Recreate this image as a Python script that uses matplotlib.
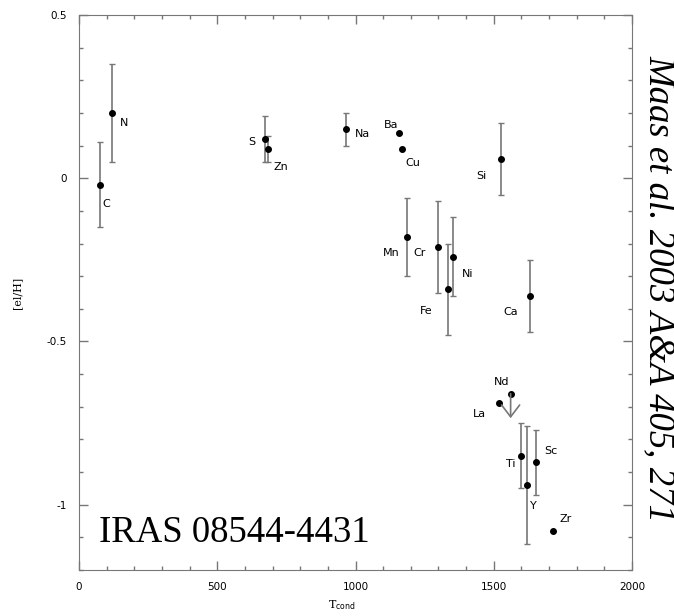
import matplotlib
matplotlib.use("Agg")
import matplotlib.pyplot as plt
from matplotlib.ticker import MultipleLocator

# element abundances [el/H] vs condensation temperature
elements = ["C", "N", "S", "Zn", "Na", "Ba", "Cu", "Si", "Mn", "Cr",
            "Fe", "Ni", "Ca", "La", "Ti", "Y", "Sc", "Zr"]
t_cond = [76, 119, 673, 683, 966, 1159, 1167, 1527, 1188, 1298,
          1334, 1353, 1632, 1519, 1598, 1621, 1652, 1716]
abund = [-0.02, 0.20, 0.12, 0.09, 0.15, 0.14, 0.09, 0.06, -0.18, -0.21,
         -0.34, -0.24, -0.36, -0.69, -0.85, -0.94, -0.87, -1.08]
err = [0.13, 0.15, 0.07, 0.04, 0.05, 0.0, 0.0, 0.11, 0.12, 0.14,
       0.14, 0.12, 0.11, 0.0, 0.10, 0.18, 0.10, 0.0]

# Nd is an upper limit
nd_t = 1561
nd_val = -0.66
nd_tip = -0.735

# label offsets (points) from each dot
offsets = {"C": (1.6, -16), "N": (5.7, -9.7), "S": (-12, -4), "Zn": (4, -15),
           "Na": (6, -5.5), "Ba": (-11, 3), "Cu": (3, -12.5), "Si": (-18, -15),
           "Mn": (-18, -14), "Cr": (-17.5, -6.6), "Fe": (-20, -18), "Ni": (6, -14.5),
           "Ca": (-19, -14), "La": (-19, -9.5), "Ti": (-11, -8), "Y": (2, -17),
           "Sc": (6, 6), "Zr": (4, 6.5)}

fig = plt.figure(figsize=(6.74, 6.16), dpi=100)
ax = fig.add_axes([0.1172, 0.0747, 0.8205, 0.9009])

for x, y, e in zip(t_cond, abund, err):
    if e > 0:
        ax.errorbar(x, y, yerr=e, fmt="none", ecolor="#777777", elinewidth=1.2,
                    capsize=2.5, capthick=1)
ax.plot(t_cond, abund, "o", color="black", markersize=4)
ax.plot(nd_t, nd_val, "o", color="black", markersize=4)
ax.annotate("", xy=(nd_t, nd_tip), xytext=(nd_t, nd_val),
            arrowprops=dict(arrowstyle="->,head_length=0.85,head_width=0.65",
                            color="#777777", lw=1.2, shrinkA=0, shrinkB=0))
ax.annotate("Nd", (nd_t, nd_val), xytext=(-12, 6), textcoords="offset points",
            fontsize=8)

for name, x, y in zip(elements, t_cond, abund):
    ax.annotate(name, (x, y), xytext=offsets[name], textcoords="offset points",
                fontsize=8)

ax.set_xlim(0, 2000)
ax.set_ylim(-1.2, 0.5)
ax.xaxis.set_major_locator(MultipleLocator(500))
ax.xaxis.set_minor_locator(MultipleLocator(100))
ax.yaxis.set_minor_locator(MultipleLocator(0.1))
ax.set_yticks([-1, -0.5, 0, 0.5])
ax.set_yticklabels(["-1", "-0.5", "0", "0.5"])
ax.tick_params(which="both", direction="in", top=True, right=True,
               colors="#777777", labelcolor="black", labelsize=7.5, pad=9)
ax.tick_params(which="major", length=6.5, width=1)
ax.tick_params(which="minor", length=3, width=1)
for spine in ax.spines.values():
    spine.set_color("#777777")

ax.set_ylabel("[el/H]", family="DejaVu Serif", fontsize=8)
ax.yaxis.set_label_coords(-0.103, 0.5)
ax.set_xlabel(r"T$_{\rm cond}$", family="DejaVu Serif", fontsize=8)
ax.xaxis.set_label_coords(0.476, -0.05)

ax.text(0.0367, 0.051, "IRAS 08544-4431", transform=ax.transAxes,
        family="Liberation Serif", fontsize=26.5, va="baseline")
fig.text(0.951, 0.531, "Maas et al. 2003 A&A 405, 271", rotation=-90,
         family="Liberation Serif", style="italic", fontsize=26.5,
         ha="left", va="center")

fig.savefig("out.png", dpi=100)
